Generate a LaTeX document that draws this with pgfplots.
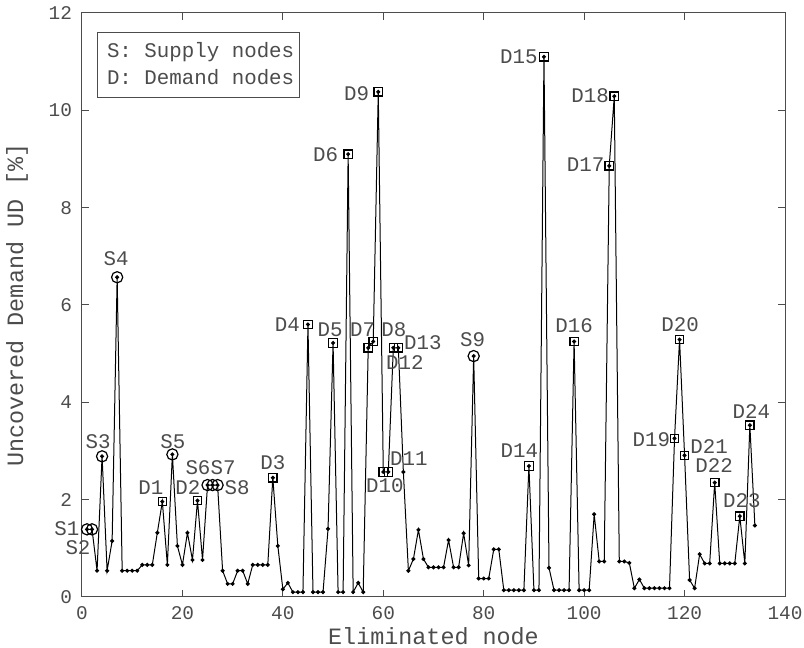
\documentclass[border=0pt]{standalone}
\usepackage{fontspec}
\setmainfont{Liberation Mono}
\usepackage{pgfplots}
\pgfplotsset{compat=1.18}

\definecolor{txt}{gray}{0.3}
\definecolor{axl}{gray}{0.3}

\pgfplotstableread{
x y
1 1.39
2 1.39
3 0.54
4 2.89
5 0.54
6 1.15
7 6.57
8 0.54
9 0.54
10 0.54
11 0.54
12 0.66
13 0.66
14 0.66
15 1.32
16 1.96
17 0.66
18 2.93
19 1.05
20 0.66
21 1.32
22 0.76
23 1.98
24 0.76
25 2.30
26 2.30
27 2.30
28 0.54
29 0.27
30 0.27
31 0.54
32 0.54
33 0.27
34 0.66
35 0.66
36 0.66
37 0.66
38 2.45
39 1.05
40 0.16
41 0.29
42 0.10
43 0.10
44 0.10
45 5.60
46 0.10
47 0.10
48 0.10
49 1.40
50 5.22
51 0.10
52 0.10
53 9.10
54 0.10
55 0.29
56 0.10
57 5.12
58 5.25
59 10.38
60 2.57
61 2.57
62 5.12
63 5.12
64 2.57
65 0.54
66 0.78
67 1.38
68 0.78
69 0.61
70 0.61
71 0.61
72 0.61
73 1.17
74 0.61
75 0.61
76 1.31
77 0.65
78 4.95
79 0.38
80 0.38
81 0.38
82 0.98
83 0.98
84 0.14
85 0.14
86 0.14
87 0.14
88 0.14
89 2.69
90 0.14
91 0.14
92 11.10
93 0.60
94 0.14
95 0.14
96 0.14
97 0.14
98 5.25
99 0.14
100 0.14
101 0.14
102 1.70
103 0.73
104 0.73
105 8.86
106 10.29
107 0.73
108 0.73
109 0.70
110 0.18
111 0.36
112 0.18
113 0.18
114 0.18
115 0.18
116 0.18
117 0.18
118 3.26
119 5.29
120 2.91
121 0.35
122 0.18
123 0.88
124 0.69
125 0.69
126 2.35
127 0.69
128 0.69
129 0.69
130 0.69
131 1.66
132 0.69
133 3.53
134 1.47
}\alldata

\pgfplotstableread{
x y
1 1.39
2 1.39
4 2.89
7 6.57
18 2.93
25 2.30
26 2.30
27 2.30
78 4.95
}\supply

\pgfplotstableread{
x y
16 1.96
23 1.98
38 2.45
45 5.60
50 5.22
53 9.10
57 5.12
58 5.25
59 10.38
60 2.57
61 2.57
62 5.12
63 5.12
89 2.69
92 11.10
98 5.25
105 8.86
106 10.29
118 3.26
119 5.29
120 2.91
126 2.35
131 1.66
133 3.53
}\demand

\begin{document}
\begin{tikzpicture}
\begin{axis}[
    scale only axis,
    width=351.5pt, height=292pt,
    xmin=0, xmax=140, ymin=0, ymax=12,
    xtick={0,20,...,140}, ytick={0,2,...,12},
    tick align=inside, tickpos=both,
    major tick length=3.5pt,
    axis line style={axl, line width=0.5pt},
    every tick/.style={axl, line width=0.5pt},
    /pgf/number format/assume math mode=true,
    tick label style={font=\fontsize{9.7}{11}\selectfont, text=txt},
    yticklabel style={xshift=-1.5pt},
    xticklabel style={yshift=-1pt},
    xlabel={Eliminated node},
    ylabel={Uncovered Demand UD [\%]},
    label style={font=\fontsize{11.7}{13}\selectfont, text=txt},
    xlabel style={at={(axis description cs:0.5,-0.0805)}, anchor=base},
    ylabel style={at={(axis description cs:-0.0925,0.5)}, anchor=center},
    clip=false,
]
\addplot[black, line width=0.5pt, mark=*, mark size=0.75pt] table[x=x,y=y] {\alldata};
\addplot[only marks, black, mark=o, mark size=2.8pt, mark options={line width=0.6pt}] table[x=x,y=y] {\supply};
\addplot[only marks, black, mark=square, mark size=2.1pt, mark options={line width=0.6pt}] table[x=x,y=y] {\demand};

\begin{scope}[every node/.style={font=\fontsize{10.4}{12}\selectfont, text=txt, inner sep=0pt, anchor=center}]
\node at (axis cs:-3.0,1.40) {S1};
\node at (axis cs:-0.8,1.01) {S2};
\node at (axis cs:3.2,3.2) {S3};
\node at (axis cs:6.8,6.96) {S4};
\node at (axis cs:18.1,3.2) {S5};
\node at (axis cs:13.7,2.24) {D1};
\node at (axis cs:21.1,2.24) {D2};
\node at (axis cs:23.1,2.65) {S6};
\node at (axis cs:28.1,2.65) {S7};
\node at (axis cs:30.9,2.24) {S8};
\node at (axis cs:38.0,2.76) {D3};
\node at (axis cs:40.9,5.59) {D4};
\node at (axis cs:49.4,5.50) {D5};
\node at (axis cs:48.5,9.08) {D6};
\node at (axis cs:55.9,5.50) {D7};
\node at (axis cs:62.1,5.49) {D8};
\node at (axis cs:54.7,10.35) {D9};
\node at (axis cs:60.3,2.29) {D10};
\node at (axis cs:65.1,2.84) {D11};
\node at (axis cs:64.3,4.81) {D12};
\node at (axis cs:67.9,5.22) {D13};
\node at (axis cs:77.8,5.28) {S9};
\node at (axis cs:87.1,3.01) {D14};
\node at (axis cs:87.0,11.10) {D15};
\node at (axis cs:98.0,5.57) {D16};
\node at (axis cs:100.3,8.88) {D17};
\node at (axis cs:101.2,10.30) {D18};
\node at (axis cs:113.4,3.23) {D19};
\node at (axis cs:119.1,5.59) {D20};
\node at (axis cs:124.9,3.10) {D21};
\node at (axis cs:125.9,2.70) {D22};
\node at (axis cs:131.4,1.99) {D23};
\node at (axis cs:133.3,3.82) {D24};
\end{scope}

\draw[axl, line width=0.5pt, fill=white] (axis cs:3.05,10.27) rectangle (axis cs:43.4,11.6);
\node[font=\fontsize{10.4}{12}\selectfont, text=txt, anchor=west, inner sep=0pt] at (axis cs:4.9,11.20) {S: Supply nodes};
\node[font=\fontsize{10.4}{12}\selectfont, text=txt, anchor=west, inner sep=0pt] at (axis cs:4.9,10.68) {D: Demand nodes};
\end{axis}
\pgfresetboundingbox
\useasboundingbox (-41pt,-25.5pt) rectangle (361pt,298.5pt);
\end{tikzpicture}
\end{document}
